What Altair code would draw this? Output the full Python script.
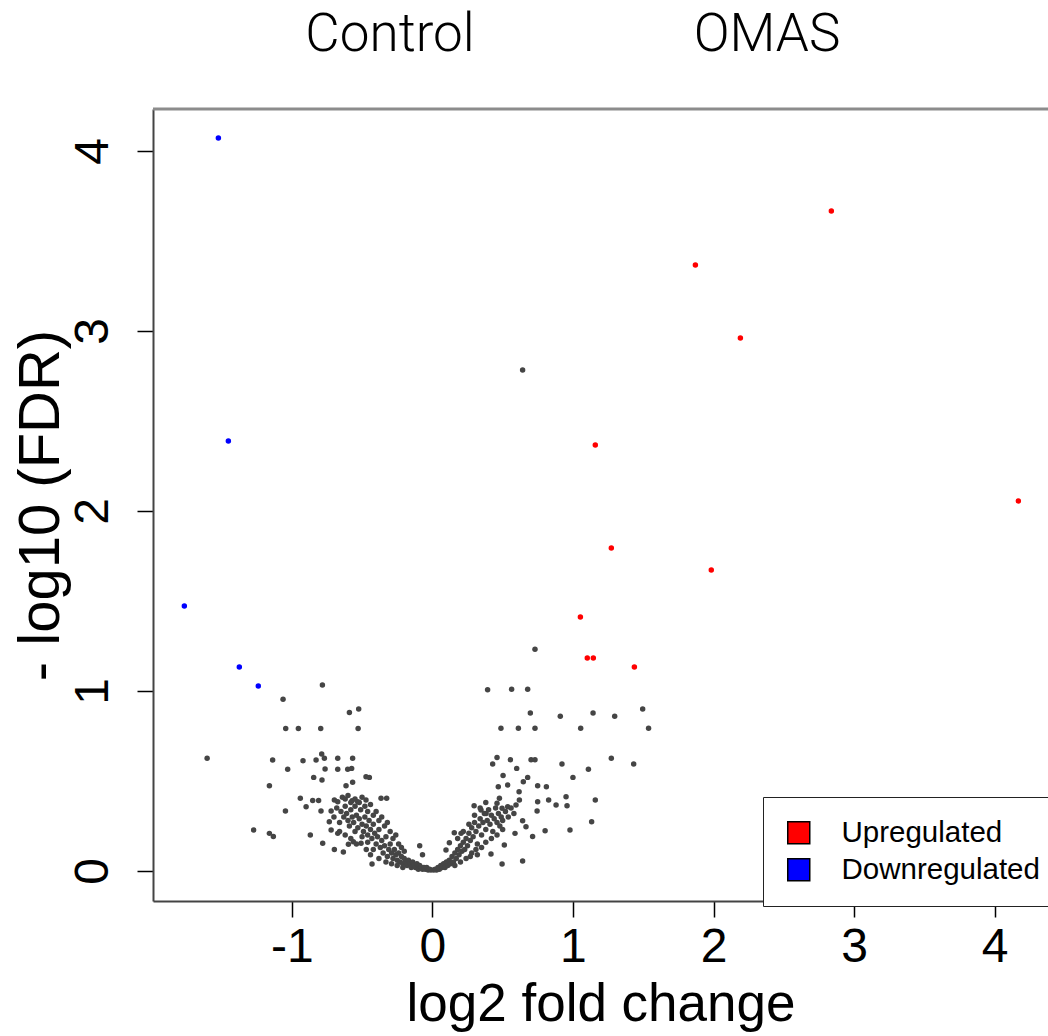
import altair as alt
import pandas as pd

# ---- significant genes ----
up_x = [2.838, 1.871, 2.191, 1.159, 4.168, 1.273, 1.984, 1.053, 1.102, 1.145, 1.437]
up_y = [3.667, 3.367, 2.961, 2.367, 2.056, 1.794, 1.672, 1.411, 1.183, 1.183, 1.133]

down_x = [-1.522, -1.451, -1.764, -1.373, -1.238]
down_y = [4.072, 2.389, 1.472, 1.133, 1.028]

# ---- non-significant genes: scattered (left) ----
ns_left_x = [-0.782, -1.062, -0.590, -0.524, -1.043, -0.953, -0.794, -0.528, -1.602, -1.136,
             -0.920, -0.827, -0.787, -0.768, -0.673, -0.567, -1.029, -0.763, -0.673, -0.602,
             -0.574, -0.844, -0.785, -0.472, -0.448, -1.159, -0.614, -0.567, -0.939, -0.851,
             -0.809, -0.697, -0.673, -0.571, -0.531, -0.472, -0.365, -0.325, -1.045, -0.898,
             -0.792, -0.720, -1.271, -1.159, -1.131, -0.868, -0.733, -0.720, -0.673, -0.780,
             -0.697, -0.633, -0.597, -0.562, -0.507, -0.429, -0.09, -0.07]
ns_left_y = [1.033, 0.954, 0.880, 0.900, 0.791, 0.791, 0.791, 0.791, 0.626, 0.617,
             0.613, 0.617, 0.650, 0.626, 0.626, 0.626, 0.565, 0.567, 0.565, 0.565,
             0.570, 0.520, 0.506, 0.524, 0.520, 0.474, 0.474, 0.493, 0.404, 0.391,
             0.391, 0.394, 0.385, 0.390, 0.385, 0.394, 0.404, 0.404, 0.333, 0.357,
             0.333, 0.333, 0.228, 0.209, 0.191, 0.200, 0.274, 0.228, 0.209, 0.154,
             0.120, 0.106, 0.148, 0.163, 0.154, 0.039, 0.140, 0.090]

# ---- non-significant genes: scattered (right) ----
ns_right_x = [0.642, 0.730, 0.564, 0.678, 0.393, 0.697, 0.910, 1.143, 1.297, 1.496,
              0.488, 0.612, 0.730, 1.055, 1.538, 0.460, 0.429, 0.555, 0.702, 0.730,
              0.600, 0.922, 1.273, 1.432, 1.110, 1.000, 0.503, 0.678, 0.647, 0.469,
              0.536, 0.749, 0.811, 0.617, 0.951, 0.827, 1.159, 0.749, 0.880, 0.958,
              0.619, 0.595, 0.536, 0.745, 0.297, 0.346, 0.382, 0.477, 0.460, 0.496,
              1.133, 0.802, 0.979, 0.642, 0.666, 0.512, 0.417, 0.496, 0.642, 0.588,
              0.713, 0.097, 0.121, 0.156, 0.204]
ns_right_y = [2.783, 1.232, 1.010, 1.010, 1.007, 0.878, 0.859, 0.878, 0.859, 0.900,
              0.793, 0.793, 0.793, 0.793, 0.793, 0.631, 0.594, 0.618, 0.618, 0.618,
              0.570, 0.594, 0.626, 0.594, 0.565, 0.520, 0.531, 0.520, 0.496, 0.468,
              0.478, 0.474, 0.468, 0.440, 0.413, 0.394, 0.394, 0.385, 0.367, 0.363,
              0.394, 0.367, 0.357, 0.333, 0.363, 0.339, 0.320, 0.404, 0.376, 0.348,
              0.274, 0.223, 0.228, 0.279, 0.246, 0.144, 0.094, 0.039, 0.056, 0.209,
              0.191, 0.117, 0.157, 0.213, 0.209]

# ---- non-significant genes: dense core (left arm) ----
core_left_x = [-0.65, -0.63, -0.62, -0.60, -0.61, -0.58, -0.57, -0.59, -0.56, -0.55,
               -0.54, -0.53, -0.55, -0.52, -0.51, -0.50, -0.49, -0.50, -0.48, -0.47,
               -0.46, -0.45, -0.46, -0.44, -0.43, -0.42, -0.41, -0.40, -0.42, -0.39,
               -0.38, -0.37, -0.36, -0.35, -0.34, -0.33, -0.32, -0.31, -0.30, -0.29,
               -0.28, -0.27, -0.26, -0.25, -0.24, -0.23, -0.22, -0.21, -0.20, -0.19,
               -0.18, -0.17, -0.16, -0.15, -0.14, -0.13, -0.12, -0.11, -0.10, -0.09,
               -0.08, -0.07, -0.06, -0.05, -0.04, -0.03, -0.02, -0.01,
               -0.64, -0.62, -0.60, -0.58, -0.55, -0.52, -0.50, -0.48, -0.46, -0.44,
               -0.42, -0.40, -0.38, -0.36, -0.34, -0.32, -0.30, -0.28, -0.26, -0.24,
               -0.22, -0.20, -0.66, -0.68, -0.70, -0.66, -0.62, -0.58, -0.54, -0.47,
               -0.44, -0.38, -0.33, -0.29, -0.25, -0.21]
core_left_y = [0.33, 0.30, 0.36, 0.28, 0.32, 0.34, 0.30, 0.25, 0.27, 0.36,
               0.31, 0.24, 0.22, 0.29, 0.34, 0.26, 0.22, 0.19, 0.30, 0.25,
               0.20, 0.28, 0.16, 0.23, 0.18, 0.26, 0.21, 0.15, 0.12, 0.19,
               0.23, 0.13, 0.17, 0.10, 0.14, 0.19, 0.08, 0.12, 0.15, 0.10,
               0.07, 0.12, 0.09, 0.06, 0.10, 0.05, 0.08, 0.04, 0.07, 0.05,
               0.03, 0.06, 0.04, 0.02, 0.05, 0.03, 0.02, 0.04, 0.01, 0.03,
               0.02, 0.01, 0.02, 0.01, 0.02, 0.005, 0.01, 0.005,
               0.41, 0.40, 0.42, 0.38, 0.40, 0.38, 0.41, 0.36, 0.33, 0.37,
               0.31, 0.33, 0.28, 0.30, 0.25, 0.27, 0.22, 0.18, 0.20, 0.15,
               0.13, 0.11, 0.27, 0.35, 0.30, 0.22, 0.20, 0.18, 0.15, 0.12,
               0.09, 0.07, 0.05, 0.04, 0.03, 0.02]

# ---- non-significant genes: dense core (right arm) ----
core_right_x = [0.01, 0.02, 0.03, 0.04, 0.05, 0.06, 0.07, 0.08, 0.09, 0.10,
                0.11, 0.12, 0.13, 0.14, 0.15, 0.16, 0.17, 0.18, 0.19, 0.20,
                0.21, 0.22, 0.23, 0.24, 0.25, 0.26, 0.27, 0.28, 0.29, 0.30,
                0.31, 0.32, 0.33, 0.34, 0.35, 0.36, 0.37, 0.38, 0.39, 0.40,
                0.41, 0.42, 0.43, 0.44, 0.45, 0.46, 0.47, 0.48, 0.49, 0.50,
                0.52, 0.54, 0.56, 0.58, 0.16, 0.20, 0.24, 0.28, 0.32, 0.35,
                0.38, 0.42, 0.46, 0.50, 0.18, 0.22, 0.26, 0.30, 0.34, 0.38,
                0.27, 0.31]
core_right_y = [0.005, 0.01, 0.005, 0.02, 0.01, 0.03, 0.02, 0.04, 0.02, 0.05,
                0.03, 0.06, 0.04, 0.08, 0.05, 0.10, 0.07, 0.12, 0.09, 0.14,
                0.11, 0.16, 0.12, 0.18, 0.14, 0.21, 0.17, 0.24, 0.19, 0.27,
                0.22, 0.15, 0.25, 0.29, 0.20, 0.27, 0.32, 0.23, 0.28, 0.34,
                0.26, 0.31, 0.22, 0.29, 0.35, 0.27, 0.32, 0.25, 0.30, 0.28,
                0.33, 0.30, 0.35, 0.32, 0.03, 0.05, 0.07, 0.10, 0.09, 0.13,
                0.16, 0.18, 0.20, 0.23, 0.18, 0.22, 0.26, 0.31, 0.35, 0.38,
                0.08, 0.12]

groups = ["Upregulated", "Downregulated", "NS"]
colors = ["#ff0000", "#0000ff", "#454545"]

ns_x = ns_left_x + ns_right_x + core_left_x + core_right_x
ns_y = ns_left_y + ns_right_y + core_left_y + core_right_y

df = pd.DataFrame({
    "lfc": ns_x + up_x + down_x,
    "fdr": ns_y + up_y + down_y,
    "group": ["NS"] * len(ns_x) + ["Upregulated"] * len(up_x) + ["Downregulated"] * len(down_x),
})

W, H = 895, 792
x_domain = [-1.987, 4.379]
y_domain = [-0.1667, 4.233]

points = alt.Chart(df).mark_circle(size=30, opacity=1).encode(
    x=alt.X("lfc:Q",
            scale=alt.Scale(domain=x_domain, nice=False, zero=False),
            axis=alt.Axis(values=[-1, 0, 1, 2, 3, 4], title="log2 fold change",
                          labelExpr="'' + datum.value",
                          labelPadding=6, titleY=119, titleBaseline="alphabetic")),
    y=alt.Y("fdr:Q",
            scale=alt.Scale(domain=y_domain, nice=False, zero=False),
            axis=alt.Axis(values=[0, 1, 2, 3, 4], title="- log10 (FDR)",
                          labelAngle=270, labelAlign="center", labelBaseline="alphabetic",
                          labelPadding=30, titleX=-112, titleY=396, titleBaseline="middle",
                          titleFontSize=58)),
    color=alt.Color("group:N",
                    scale=alt.Scale(domain=groups, range=colors),
                    legend=alt.Legend(values=["Upregulated", "Downregulated"], title=None,
                                      orient="none", legendX=610, legendY=688,
                                      padding=21, strokeColor="#222222", fillColor="white",
                                      symbolType="square", symbolSize=484,
                                      symbolStrokeColor="black", symbolStrokeWidth=1.5,
                                      labelFont="Liberation Sans", labelFontSize=29.5,
                                      labelColor="black", labelOffset=28, labelLimit=0,
                                      rowPadding=6)),
)

one = pd.DataFrame({"k": [0]})

top_line = alt.Chart(one).mark_rule(color="#8c8c8c", strokeWidth=3).encode(
    x=alt.value(0), x2=alt.value(W), y=alt.value(0)
)

title_font = dict(font="Roboto", fontSize=53, fontWeight=300, color="black",
                  align="center", baseline="alphabetic")
t_control = alt.Chart(one).mark_text(text="Control", **title_font).encode(
    x=alt.value(237), y=alt.value(-58)
)
t_omas = alt.Chart(one).mark_text(text="OMAS", **title_font).encode(
    x=alt.value(614), y=alt.value(-58)
)

chart = alt.layer(top_line, points, t_control, t_omas).properties(
    width=W, height=H,
    autosize=alt.AutoSizeParams(type="none"),
    padding={"left": 153, "top": 109, "right": 0, "bottom": 135},
    background="white",
).configure_view(
    strokeOpacity=0
).configure_axis(
    grid=False,
    labelFont="Liberation Sans", labelFontSize=48, labelColor="black",
    tickColor="black", tickSize=16, tickWidth=1.5,
    domainColor="#444444", domainWidth=2,
    titleFont="Liberation Sans", titleFontSize=53, titleFontWeight="normal",
    titleColor="black",
)

chart.save("out.html", embed_options={"renderer": "svg", "actions": False})
